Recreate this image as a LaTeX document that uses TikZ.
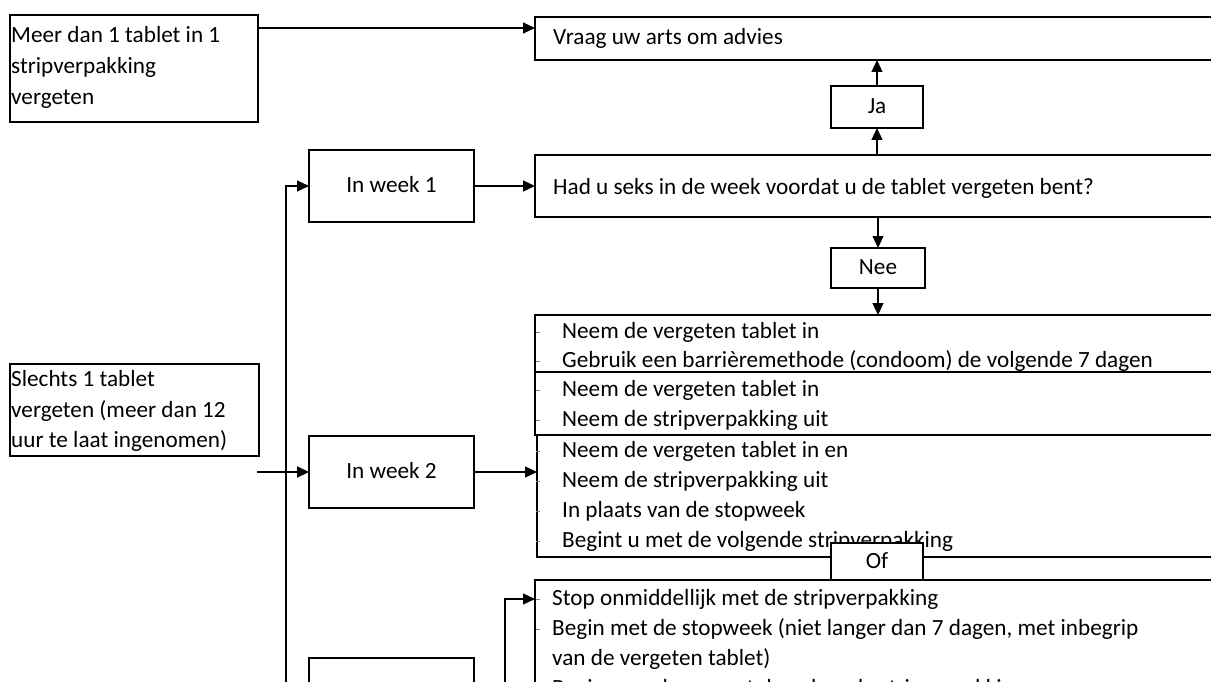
\documentclass[tikz,border=0pt]{standalone}
\usepackage{fontspec}
\setmainfont{Carlito}
\usetikzlibrary{arrows.meta}
\begin{document}
\begin{tikzpicture}[x=1pt,y=-1pt,
  box/.style={draw=black, line width=1.2pt, inner sep=0pt, outer sep=0pt, anchor=north west},
  wbox/.style={box, fill=white},
  txt/.style={inner sep=0pt, anchor=west, text height=13pt, text depth=0pt, font=\fontsize{23.2}{30}\selectfont},
  ctxt/.style={txt, anchor=center},
  arr/.style={line width=1.2pt, -{Triangle[length=12pt,width=11pt]}},
  tick/.style={draw=gray, line width=0.8pt}]
\useasboundingbox (0,0) rectangle (1211,682);
\fill[white] (0,0) rectangle (1211,682);

% left boxes
\node[box, minimum width=248pt, minimum height=107pt] (A) at (10,15) {};
\node[txt] (a1) at (11,36) {Meer dan 1 tablet in 1};
\node[txt] (a2) at (11,67) {stripverpakking};
\node[txt] (a3) at (11,98) {vergeten};

\node[box, minimum width=249pt, minimum height=92pt] (S) at (10,364) {};
\node[txt] (s1) at (11,380) {Slechts 1 tablet};
\node[txt] (s2) at (11,411) {vergeten (meer dan 12};
\node[txt] (s3) at (11,441) {uur te laat ingenomen)};

% week boxes
\node[box, minimum width=165pt, minimum height=72pt] (W1) at (309,150) {};
\node[ctxt] (w1t) at (W1.center) {In week 1};
\node[box, minimum width=165pt, minimum height=72pt] (W2) at (309,436) {};
\node[ctxt] (w2t) at (W2.center) {In week 2};
\node[box, minimum width=165pt, minimum height=90pt] (W3) at (309,658) {};

% right boxes
\node[box, minimum width=705pt, minimum height=43pt] (V) at (535,17) {};
\node[txt] (vt) at (553,38) {Vraag uw arts om advies};

\node[box, minimum width=705pt, minimum height=62pt] (H) at (535,155) {};
\node[txt] (ht) at (553,188) {Had u seks in de week voordat u de tablet vergeten bent?};

\node[box, minimum width=705pt, minimum height=57pt] (B) at (535,315) {};
\node[txt] (b1) at (562,332) {Neem de vergeten tablet in};
\node[txt] (b2) at (562,361) {Gebruik een barrièremethode (condoom) de volgende 7 dagen};

\node[box, minimum width=705pt, minimum height=63pt] (C) at (535,372) {};
\node[txt] (c1) at (562,390) {Neem de vergeten tablet in};
\node[txt] (c2) at (562,420) {Neem de stripverpakking uit};

\node[box, minimum width=703pt, minimum height=122pt] (D) at (537,435) {};
\node[txt] (d1) at (562,451) {Neem de vergeten tablet in en};
\node[txt] (d2) at (562,481) {Neem de stripverpakking uit};
\node[txt] (d3) at (562,511) {In plaats van de stopweek};
\node[txt] (d4) at (562,541) {Begint u met de volgende stripverpakking};

\node[box, minimum width=705pt, minimum height=160pt] (E) at (535,580) {};
\node[txt] (e1) at (552,599) {Stop onmiddellijk met de stripverpakking};
\node[txt] (e2) at (552,629) {Begin met de stopweek (niet langer dan 7 dagen, met inbegrip};
\node[txt] (e3) at (552,659) {van de vergeten tablet)};
\node[txt] (e4) at (552,689) {Begin vervolgens met de volgende stripverpakking};

% bullet ticks
\foreach \y in {332,361,390,420,451,481,511,541,599,629} \draw[tick] (536,\y) -- (540,\y);

% small label boxes
\node[wbox, minimum width=92pt, minimum height=42pt] (Ja) at (831,86) {};
\node[ctxt] (jat) at (Ja.center) {Ja};
\node[wbox, minimum width=94pt, minimum height=40pt] (Nee) at (831,248) {};
\node[ctxt] (neet) at (Nee.center) {Nee};
\node[wbox, minimum width=92pt, minimum height=37pt] (Of) at (831,543) {};
\node[ctxt] (oft) at (Of.center) {Of};

% connectors
\draw[arr] ([yshift=-13pt]A.north east) -- ([yshift=-13pt]A.north east -| V.west);
\draw[arr] (Ja.north) -- (Ja.north |- V.south);
\draw[arr] (H.north -| Ja) -- (Ja.south);
\draw[arr] (W1.east) -- (W1.east -| H.west);
\draw[arr] (H.south -| Nee) -- (Nee.north);
\draw[arr] (Nee.south) -- (Nee.south |- B.north);
\coordinate (vb) at (286,720);
\draw[arr] (vb) |- (W1.west);
\coordinate (s0) at (257,472);
\draw[arr, line width=2pt] (s0) -- (s0 -| W2.west);
\draw[arr] (W2.east) -- (W2.east -| D.west);
\coordinate (eb) at (505,720);
\draw[arr] (eb) |- (E.west |- e1);
\end{tikzpicture}
\end{document}
